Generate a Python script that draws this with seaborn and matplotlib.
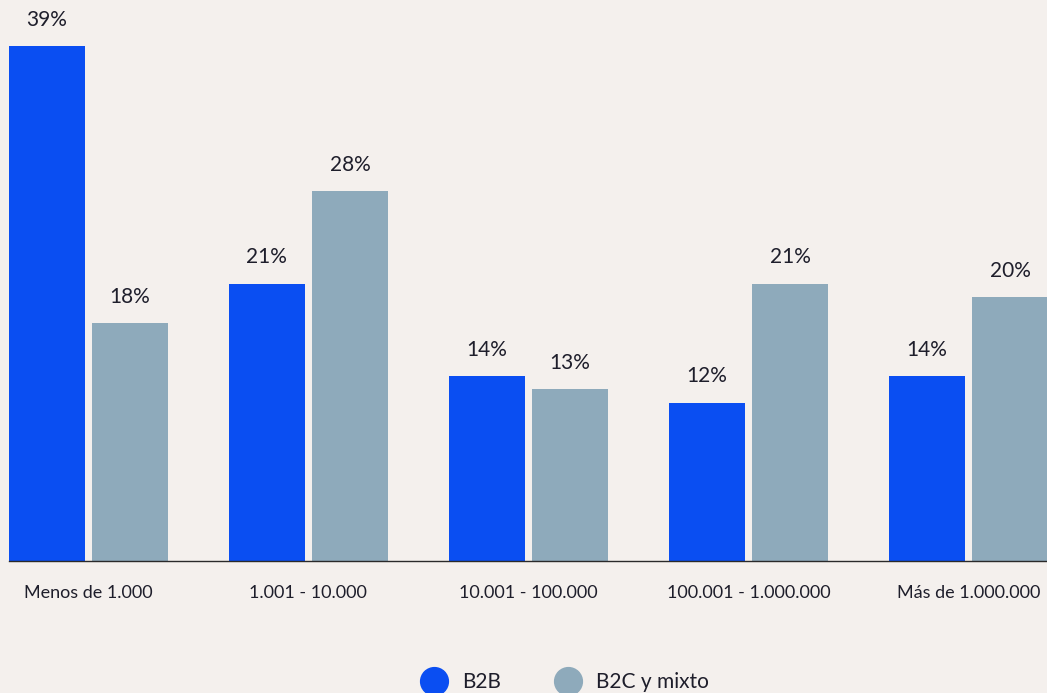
import pandas as pd
import matplotlib.pyplot as plt
import seaborn as sns
from matplotlib.lines import Line2D

# Data
categories = ['Menos de 1.000', '1.001 - 10.000', '10.001 - 100.000', '100.001 - 1.000.000', 'Más de 1.000.000']
b2b = [39, 21, 14, 12, 14]
b2c = [18, 28, 13, 21, 20]
series = ['B2B', 'B2C y mixto']

df = pd.DataFrame({
    'cat': categories * 2,
    'serie': [series[0]] * 5 + [series[1]] * 5,
    'valor': b2b + b2c,
})

bg = '#f4f0ed'
blue = '#0a4ef2'
grey = '#8eaabb'
txt = '#1e1e2b'

sns.set_style('white')
plt.rcParams['font.family'] = ['Lato', 'DejaVu Sans']

fig = plt.figure(figsize=(10.47, 6.93), dpi=100, facecolor=bg)
ax = fig.add_axes([9 / 1047, 132 / 693, 1038 / 1047, 528 / 693])
ax.set_facecolor(bg)

sns.barplot(data=df, x='cat', y='valor', hue='serie', palette=[blue, grey],
            width=0.755, gap=0.084, ax=ax, legend=False, saturation=1,
            linewidth=0, edgecolor='none')

# value labels above bars
for cont in ax.containers:
    for bar in cont:
        h = bar.get_height()
        ax.annotate(f'{h:.0f}%', (bar.get_x() + bar.get_width() / 2, h),
                    xytext=(0, 19), textcoords='offset points',
                    ha='center', va='center', fontsize=15, color=txt)

ax.set_xlim(-0.361, 4.357)
ax.set_ylim(0, 40)
ax.set_xlabel('')
ax.set_ylabel('')
ax.set_yticks([])
ax.tick_params(axis='x', length=0, pad=17, labelsize=13, labelcolor=txt)
for s in ['top', 'left', 'right']:
    ax.spines[s].set_visible(False)
ax.spines['bottom'].set_color('#2a2a2a')
ax.spines['bottom'].set_linewidth(1.0)

handles = [Line2D([], [], marker='o', linestyle='', markersize=20, color=c) for c in [blue, grey]]
fig.legend(handles, series, loc='center', bbox_to_anchor=(565 / 1047, 1 - 682 / 693),
           ncol=2, frameon=False, fontsize=15, handletextpad=0.75, columnspacing=2.6,
           handlelength=1.2, labelcolor=txt)

plt.savefig('out.png', dpi=100, facecolor=bg)
plt.close()
